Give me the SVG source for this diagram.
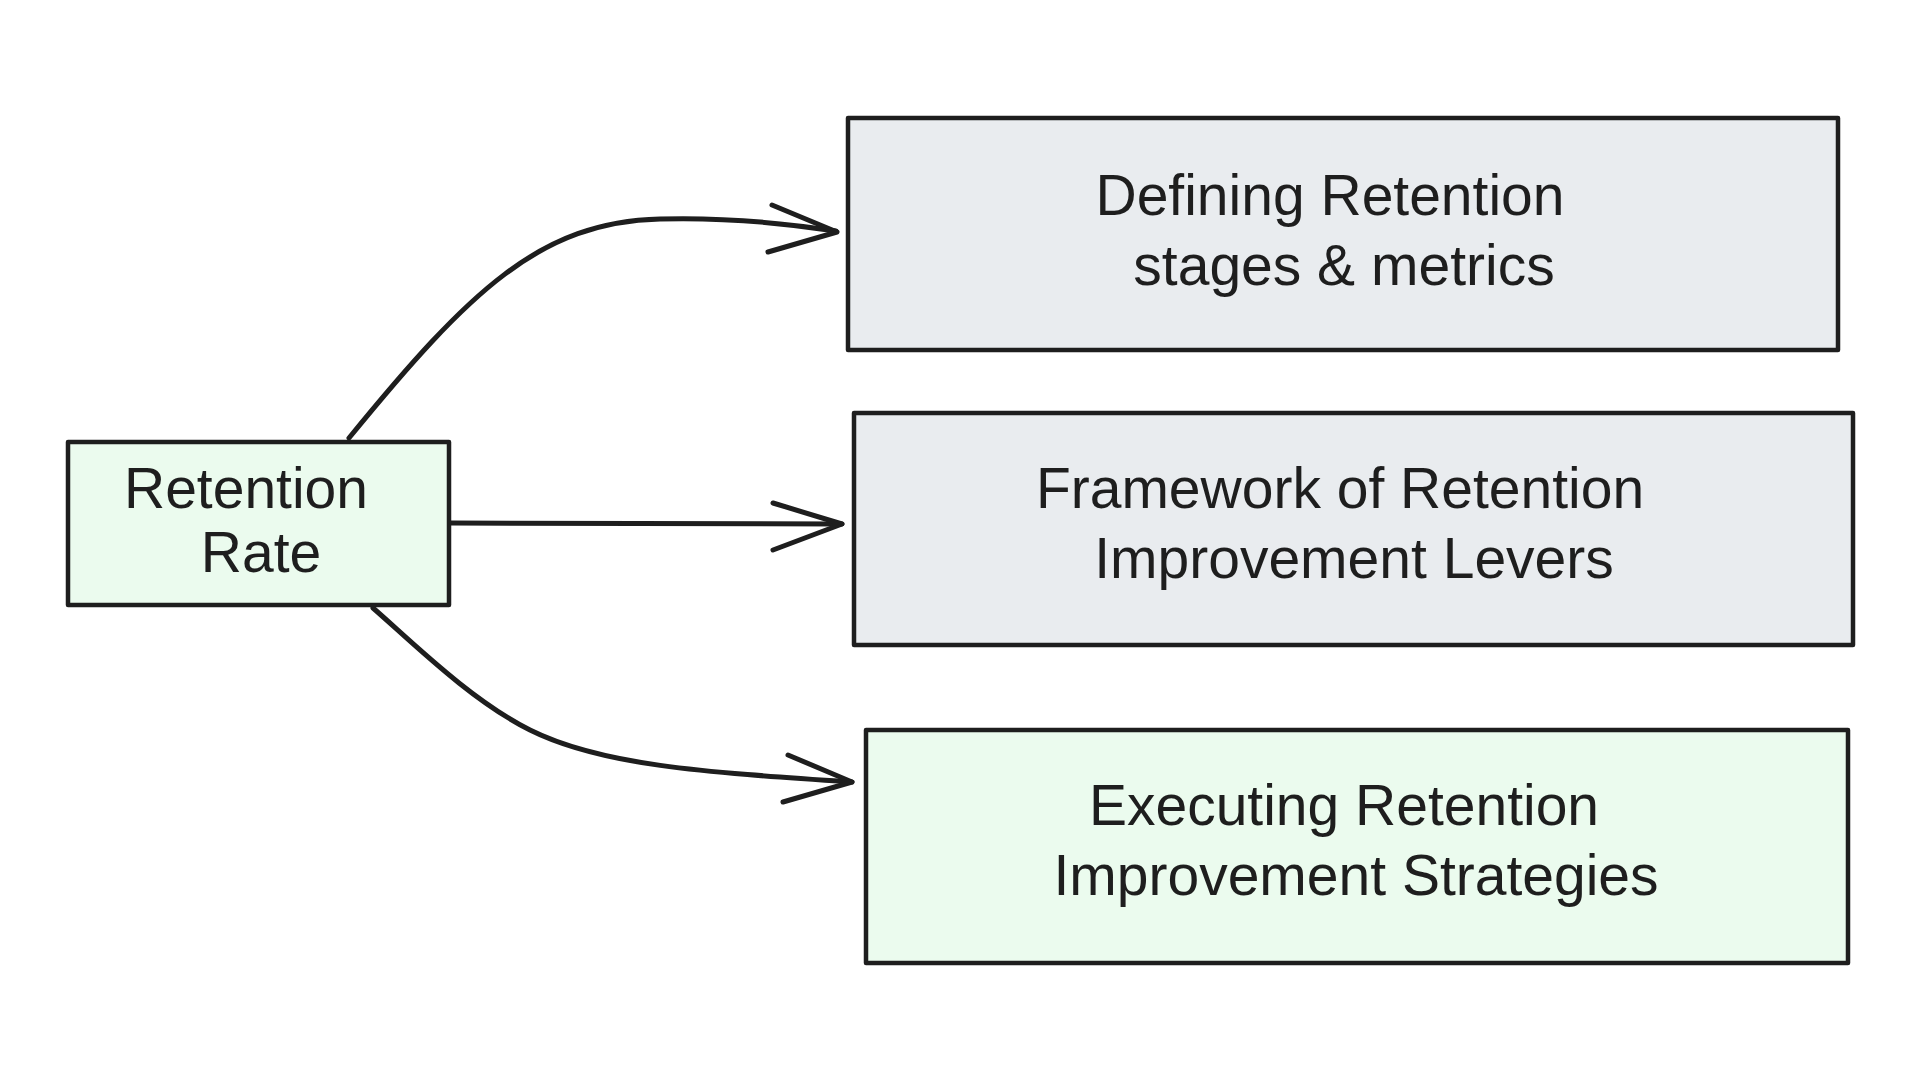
<svg xmlns="http://www.w3.org/2000/svg" width="1920" height="1080" viewBox="0 0 1920 1080">
  <style>
    .box { stroke: #1e1e1e; stroke-width: 4.5; stroke-linejoin: round; }
    .gray { fill: #e9ecef; }
    .green { fill: #ebfbee; }
    .label { font-family: "Liberation Sans", "Noto Sans", sans-serif; font-size: 57px; fill: #1e1e1e; text-anchor: middle; }
    .conn { fill: none; stroke: #1e1e1e; stroke-width: 5; stroke-linecap: round; stroke-linejoin: round; }
  </style>
  <rect width="1920" height="1080" fill="#ffffff"/>
  <g id="connectors">
    <g id="edge-rate-defining">
      <path class="conn" d="M349 438 C 470 290, 540 222, 660 219 C 730 217, 790 224, 836 231"/>
      <path class="conn" d="M772 205 L 837 232 L 768 252"/>
    </g>
    <g id="edge-rate-framework">
      <path class="conn" d="M451 523 L 842 524"/>
      <path class="conn" d="M773 503 L 842 524 L 773 550"/>
    </g>
    <g id="edge-rate-executing">
      <path class="conn" d="M373 608 C 410 640, 470 700, 530 730 C 600 765, 700 772, 852 782"/>
      <path class="conn" d="M788 755 L 852 782 L 783 802"/>
    </g>
  </g>
  <g id="node-retention-rate">
    <rect class="box green" x="68" y="442" width="381" height="163"/>
    <text class="label" x="246" y="508">Retention</text>
    <text class="label" x="261" y="572">Rate</text>
  </g>
  <g id="node-defining">
    <rect class="box gray" x="848" y="118" width="990" height="232"/>
    <text class="label" x="1330" y="215">Defining Retention</text>
    <text class="label" x="1344" y="285">stages &amp; metrics</text>
  </g>
  <g id="node-framework">
    <rect class="box gray" x="854" y="413" width="999" height="232"/>
    <text class="label" x="1340" y="508">Framework of Retention</text>
    <text class="label" x="1354" y="578">Improvement Levers</text>
  </g>
  <g id="node-executing">
    <rect class="box green" x="866" y="730" width="982" height="233"/>
    <text class="label" x="1344" y="825">Executing Retention</text>
    <text class="label" x="1356" y="895">Improvement Strategies</text>
  </g>
</svg>
